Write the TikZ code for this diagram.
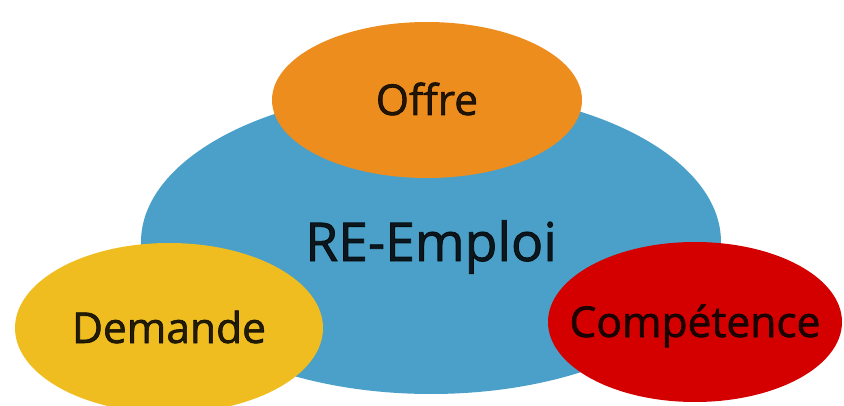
\documentclass[tikz,border=0pt]{standalone}
\usepackage{fontspec}
\setmainfont{Open Sans}
\newfontfamily\moyen{Open Sans}[FakeBold=1.4]
\usetikzlibrary{shapes.geometric}
\definecolor{bleu}{RGB}{74,160,200}
\definecolor{orange}{RGB}{236,141,30}
\definecolor{jaune}{RGB}{240,189,32}
\definecolor{rouge}{RGB}{212,0,0}
\begin{document}
\begin{tikzpicture}[x=1pt,y=1pt,
    bulle/.style={ellipse, inner sep=0pt, text=black, text opacity=0.85,
                  text depth=0pt},
    petit/.style={font=\moyen\fontsize{42.5}{50}\selectfont, text height=30pt}]
    \useasboundingbox (0,0) rectangle (844,405);

    \node[bulle, fill=bleu, minimum width=580, minimum height=304,
          font=\moyen\fontsize{53.5}{60}\selectfont, text height=38pt] (emploi) at (431,163) {RE-Emploi};
    \node[bulle, petit, fill=orange, minimum width=310, minimum height=156] (offre) at (427,305) {Offre};
    \node[bulle, petit, fill=jaune, minimum width=308, minimum height=170] (demande) at (169,77) {Demande};
    \node[bulle, petit, fill=rouge, minimum width=294, minimum height=160] (competence) at (695,83) {\makebox[0pt]{Compétence}};

  \end{tikzpicture}
\end{document}
